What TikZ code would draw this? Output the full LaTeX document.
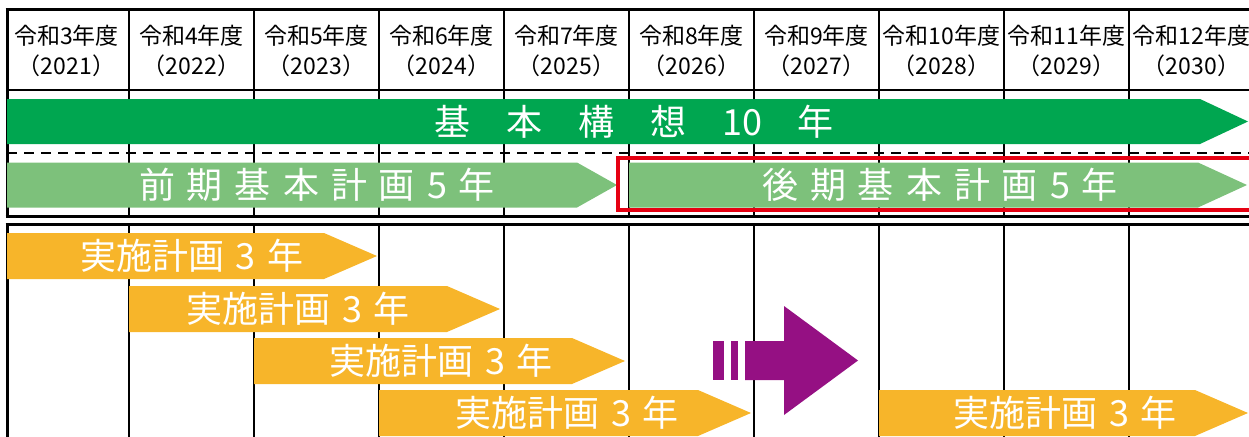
\documentclass[tikz,border=0pt]{standalone}
\usepackage{fontspec}
\setmainfont{Noto Sans CJK JP}

\definecolor{kousougreen}{HTML}{00A650}
\definecolor{keikakugreen}{HTML}{7DC17B}
\definecolor{jisshiyellow}{HTML}{F7B52A}
\definecolor{arrowpurple}{HTML}{951083}
\definecolor{framered}{HTML}{E60012}

\tikzset{
  gridline/.style={line width=2pt},
  borderline/.style={line width=3pt},
  yeartext/.style={align=center, inner sep=0pt, font=\fontsize{23}{30}\selectfont},
  bartext/.style={text=white, inner sep=0pt, font=\fontsize{36}{36}\selectfont},
}

\begin{document}
\begin{tikzpicture}[x=1pt, y=-1pt]
  \useasboundingbox (0,0) rectangle (1249,436);

  % header: fiscal years
  \foreach \i in {0,...,9} {
    \pgfmathtruncatemacro{\reiwa}{\i+3}
    \pgfmathtruncatemacro{\seireki}{\i+2021}
    \node[yeartext] (year\i) at (66.5+125*\i,51) {令和\reiwa 年度\\（\seireki）};
  }

  % table lines
  \draw[borderline] (5.5,10) -- (1260,10);
  \draw[gridline] (7,90) -- (1260,90);
  \draw[gridline, dash pattern=on 10pt off 7pt] (7,153) -- (1260,153);
  \draw[borderline] (5.5,216) -- (1260,216);
  \draw[borderline] (5.5,224) -- (1260,224);
  \draw[borderline] (7,10) -- (7,216);
  \draw[borderline] (7,224) -- (7,440);
  \foreach \x in {129,254,...,1129} {
    \draw[gridline] (\x,10) -- (\x,216);
    \draw[gridline] (\x,224) -- (\x,440);
  }

  % basic concept, 10 years
  \fill[kousougreen] (7,99) -- (1200,99) -- (1248,121.5) -- (1200,144) -- (7,144) -- cycle;
  \node[bartext] (kousou) at (634,121.5) {\spaceskip=36pt 基 本 構 想 10 年};

  % basic plans, 5 years each
  \fill[keikakugreen] (7,162.5) -- (577,162.5) -- (617,185) -- (577,207.5) -- (7,207.5) -- cycle;
  \fill[keikakugreen] (629,162.5) -- (1198,162.5) -- (1247,185) -- (1198,207.5) -- (629,207.5) -- cycle;
  \node[bartext] (zenki) at (317,185) {\spaceskip=12pt 前 期 基 本 計 画 5 年};
  \node[bartext] (kouki) at (940,185) {\spaceskip=12pt 後 期 基 本 計 画 5 年};

  % implementation plans, 3 years each
  \foreach \s/\t/\y/\c [count=\n] in {7/377/233/192, 129/500/286/298, 254/625/338/441,
      379/751/390/567, 879/1248/390/1065} {
    \fill[jisshiyellow] (\s,\y) -- (\t-53,\y) -- (\t,\y+23) -- (\t-53,\y+46) -- (\s,\y+46) -- cycle;
    \node[bartext] (jisshi\n) at (\c,\y+23) {\spaceskip=12pt 実施計画 3 年};
  }

  % continuation arrow
  \fill[arrowpurple] (713,341) rectangle (724,380);
  \fill[arrowpurple] (731,341) rectangle (738,380);
  \fill[arrowpurple] (745,341) -- (784,341) -- (784,306) -- (858,360.5) -- (784,415)
    -- (784,380) -- (745,380) -- cycle;

  % latter period frame
  \draw[framered, line width=4pt] (618,158) rectangle (1262,210);
\end{tikzpicture}
\end{document}
